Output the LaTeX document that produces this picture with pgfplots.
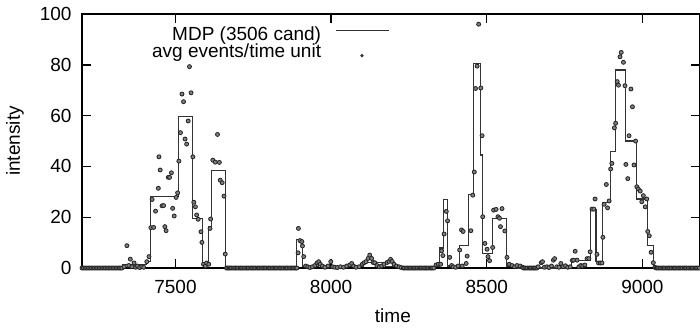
\documentclass[border=0pt]{standalone}
\usepackage{pgfplots}
\pgfplotsset{compat=1.18}
\usepackage{fontspec}
\setmainfont{Liberation Sans}
\pgfplotsset{
  mylegline/.style={legend image code/.code={\draw[##1] (0pt,3pt) -- (28pt,3pt);}},
  mylegdot/.style={legend image code/.code={\draw[mark repeat=2,mark phase=2,mark size=0.6pt,##1] plot coordinates {(0pt,-1pt) (13.7pt,-1pt) (27.4pt,-1pt)};}},
}
\begin{document}
\begin{tikzpicture}
\begin{axis}[
  scale only axis,
  width=325.3pt, height=133.7pt,
  xmin=7200, xmax=9185, ymin=0, ymax=100,
  xtick={7500,8000,8500,9000},
  ytick={0,20,40,60,80,100},
  tick align=inside,
  major tick length=4.8pt,
  axis line style={line width=0.7pt},
  every tick/.style={line width=0.7pt, black},
  /pgf/number format/assume math mode=true,
  /pgf/number format/set thousands separator={},
  xticklabel style={yshift=-3pt},
  yticklabel style={xshift=-2pt},
  xlabel={time}, ylabel={intensity},
  xlabel style={at={(axis description cs:0.503,-0.157)}, anchor=north, inner sep=0pt},
  ylabel style={at={(axis description cs:-0.1085,0.5)}, anchor=center, inner sep=0pt},
  clip=false,
  legend plot pos=right,
  legend cell align=right,
  legend style={draw=none, fill=none, inner sep=0pt, row sep=0.2pt,
    at={(rel axis cs:0.4984,0.949)}, anchor=north east,
    nodes={inner sep=0pt, text height=6.8pt, text depth=2.3pt},
    /tikz/every odd column/.append style={column sep=7.5pt}},
]
\coordinate (sw) at (rel axis cs:0,0);
\coordinate (ne) at (rel axis cs:1,1);
\addplot[const plot mark left, black!80, line width=0.6pt, mylegline]
coordinates {
(7200,0) (7330,1.5) (7407,2.5) (7421,28) (7511,59.6) (7555,19.6) (7588,1)
(7607,16.3) (7616,38.3) (7660,0) (7890,11.3) (7908,0.5) (7960,1) (7990,0.5)
(8105,2.3) (8175,0.5) (8230,0) (8330,0.5) (8349,7.9) (8362,27) (8374,0.8)
(8413,8.8) (8442,29) (8457,80.6) (8480,44.5) (8486,5.8) (8519,19.6) (8564,0.5)
(8600,0) (8773,2.8) (8832,23.2) (8851,2.5) (8873,25.7) (8898,45.8) (8914,78)
(8947,50) (8982,27.2) (9017,8.8) (9035,0) (9185,0)
};
\addlegendentry{MDP (3506 cand)}
\addplot[only marks, mark=*, mark size=1.05pt, mark options={fill=black!50, draw=black!85, line width=0.45pt}, mylegdot]
coordinates {
(7200,0) (7205,0) (7210,0) (7215,0) (7220,0) (7225,0) (7230,0) (7235,0) (7240,0) (7245,0) (7250,0) (7255,0) (7260,0) (7265,0)
(7270,0) (7275,0) (7280,0) (7285,0) (7290,0) (7295,0) (7300,0) (7305,0) (7310,0) (7315,0) (7320,0) (7324,0) (7328,0)
(7335,0.5) (7344,8.8) (7350,1) (7355,3.5) (7360,0.5) (7367,2) (7372,0.3) (7378,0.8) (7385,0.2) (7392,0.5) (7398,0.3) (7408,2.5) (7415,4.5)
(7421,15.9) (7425,27) (7430,16) (7436,22.4) (7445,31.4) (7447,43.8) (7451,38.6) (7457,24.5) (7462,24.6) (7466,16.3) (7470,14.7)
(7477,35.7) (7481,35.7) (7487,37.5) (7491,23.5) (7496,20.5) (7502,27.8) (7507,29.6) (7511,42.1) (7516,53.3) (7521,68.5) (7526,65.5)
(7531,50.8) (7536,48.8) (7541,57.9) (7545,79.3) (7550,69) (7556,43.8) (7559,25.9) (7564,24.1) (7568,20.9) (7573,19.2) (7582,14.3)
(7585,10.1) (7590,1.5) (7596,0.8) (7600,2) (7607,1.5) (7611,15.6) (7613,19.3) (7620,42.5) (7628,41.7) (7635,52.6) (7641,41.6)
(7644,34.6) (7650,33.6) (7656,28.3) (7660,5.5)
(7664,0) (7668,0) (7672,0) (7676,0) (7680,0) (7685,0) (7690,0) (7694,0) (7698,0) (7703,0) (7708,0) (7712,0) (7716,0) (7721,0)
(7726,0) (7730,0) (7734,0) (7739,0) (7744,0) (7748,0) (7752,0) (7757,0) (7762,0) (7766,0) (7770,0) (7775,0) (7780,0) (7784,0)
(7788,0) (7793,0) (7798,0) (7802,0) (7806,0) (7811,0) (7816,0) (7820,0) (7824,0) (7829,0) (7834,0) (7838,0) (7842,0) (7847,0)
(7852,0) (7856,0) (7860,0) (7865,0) (7870,0) (7874,0) (7878,0) (7883,0) (7887,0)
(7890,0) (7894,6) (7895,15.6) (7900,10.8) (7906,10.4) (7908,8.7) (7912,4.5) (7918,0.8) (7925,0.5) (7932,0.2) (7940,0.5) (7948,1)
(7955,2) (7960,2.5) (7965,1.5) (7972,0.8) (7980,0.3) (7990,0.8) (7999,2.5) (8005,0.5) (8012,0.3) (8020,0.2) (8030,0.5) (8040,0.3)
(8050,0.8) (8060,1.2) (8066,1.8) (8072,0.8) (8080,0.3) (8090,0.5) (8100,1.5) (8106,2.1) (8112,2.5) (8119,3.8) (8124,5.1) (8130,3.8)
(8135,2.2) (8140,2.1) (8147,1) (8155,0.5) (8162,0.8) (8170,1.5) (8180,2.2) (8186,2.6) (8191,3.4) (8196,2.6) (8202,1.5) (8210,0.8)
(8218,0.5) (8225,0.2)
(8232,0) (8236,0) (8241,0) (8246,0) (8250,0) (8254,0) (8259,0) (8264,0) (8268,0) (8272,0) (8277,0) (8282,0) (8286,0) (8290,0)
(8295,0) (8300,0) (8304,0) (8308,0) (8313,0) (8318,0) (8322,0) (8326,0) (8330,0)
(8337,1.2) (8344,1.5) (8352,1.5) (8355,6.8) (8359,4.9) (8363,13.4) (8370,22.3) (8374,18.6) (8381,4.2) (8387,1) (8392,0.5) (8400,0.3)
(8408,0.8) (8413,7.1) (8419,15) (8424,14.4) (8421,0.8) (8434,1.8) (8437,4.7) (8449,14.7) (8455,28.7) (8460,37.8) (8464,70.7)
(8469,79.5) (8474,96) (8481,70.9) (8485,52.1) (8487,20.2) (8494,9.7) (8501,7.4) (8504,4.5) (8509,2.9) (8519,8.1) (8522,22.8)
(8530,23.1) (8536,20.2) (8541,19.6) (8544,16.3) (8549,23.4) (8558,14.6) (8565,4.2) (8572,1.5) (8581,1) (8590,0.5) (8597,1)
(8607,0.8) (8615,0.3)
(8618,0) (8622,0) (8626,0) (8631,0) (8636,0) (8640,0) (8644,0) (8649,0) (8653,0) (8657,0) (8661,0)
(8665,0.5) (8675,2.1) (8679,2.5) (8685,0.3) (8693,0.5) (8700,0.2) (8708,0.8) (8714,3.1) (8718,3.7) (8725,0.5) (8732,0.3) (8738,1.8)
(8745,0.5) (8753,0.9) (8760,0.3) (8768,0.5) (8775,3) (8779,3.1) (8784,6.6) (8790,3.1) (8796,0.5) (8802,1) (8808,0.8) (8815,1.2)
(8822,3.7) (8828,3.7) (8832,6.4) (8838,23.2) (8844,23.2) (8848,27.2) (8854,5.4) (8859,2) (8865,2) (8870,2) (8873,12.1) (8877,25.1)
(8884,32.9) (8888,23.7) (8893,26.4) (8898,39) (8902,41.2) (8910,55.2) (8914,57) (8919,73.4) (8923,72) (8928,83.2) (8932,84.9)
(8939,81) (8944,71.8) (8947,40.8) (8953,35.2) (8957,52.1) (8963,70.5) (8968,63.5) (8973,40.6) (8978,50) (8982,32) (8987,31.1)
(8993,30.3) (8998,26.1) (9003,28.5) (9009,24.1) (9014,27.2) (9017,14.4) (9022,12.7) (9028,6.2) (9035,2.1) (9040,0.3)
(9044,0) (9048,0) (9052,0) (9057,0) (9062,0) (9066,0) (9070,0) (9075,0) (9080,0) (9084,0) (9088,0) (9093,0) (9098,0) (9102,0)
(9106,0) (9111,0) (9116,0) (9120,0) (9124,0) (9129,0) (9134,0) (9138,0) (9142,0) (9147,0) (9152,0) (9156,0) (9160,0) (9165,0)
(9170,0) (9174,0) (9178,0) (9183,0)
};
\addlegendentry{avg events/time unit}
\end{axis}
\pgfresetboundingbox
\path[use as bounding box] ([xshift=-43.2pt,yshift=-31.1pt]sw) rectangle ([yshift=7.4pt]ne);
\end{tikzpicture}
\end{document}
